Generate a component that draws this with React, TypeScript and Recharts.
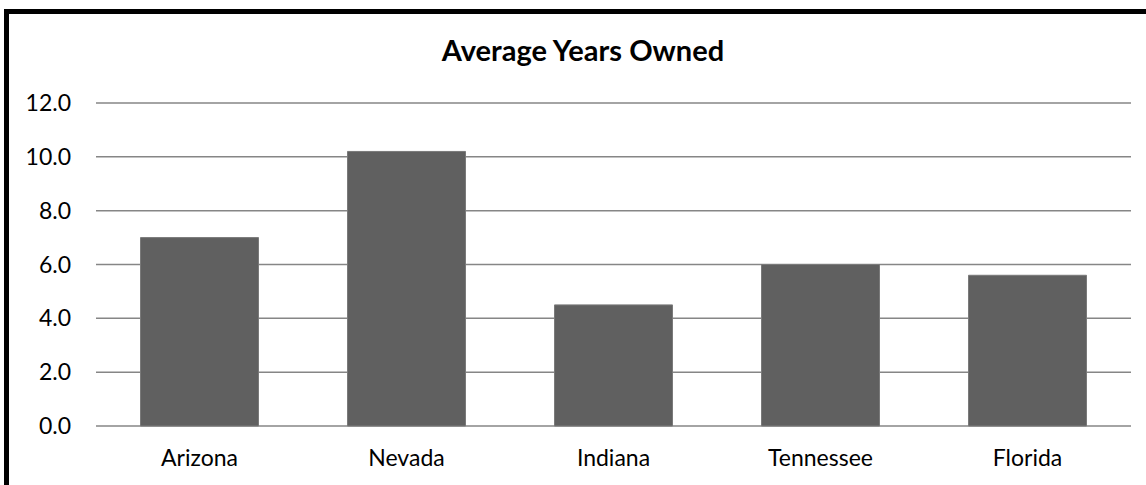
import { Bar, BarChart, CartesianGrid, XAxis, YAxis } from "recharts";

const STATES = ["Arizona", "Nevada", "Indiana", "Tennessee", "Florida"];
const YEARS_OWNED = [7.0, 10.2, 4.5, 6.0, 5.6];
const Y_TICKS = [0, 2, 4, 6, 8, 10, 12];

const data = STATES.map((state, i) => ({ state, years: YEARS_OWNED[i] }));

const FONT = "Lato, 'Open Sans', sans-serif";

export default function App() {
  return (
    <div
      style={{
        position: "absolute",
        left: 0,
        top: 0,
        width: 1146,
        height: 485,
        background: "#fff",
        overflow: "hidden",
        fontFamily: FONT,
      }}
    >
      {/* frame: only top and left edges are visible in the crop */}
      <div
        style={{
          position: "absolute",
          left: 4,
          top: 9,
          width: 1200,
          height: 520,
          borderLeft: "5px solid #000",
          borderTop: "5px solid #000",
        }}
      />
      <div
        style={{
          position: "absolute",
          left: 383,
          width: 400,
          top: 33,
          textAlign: "center",
          fontWeight: 700,
          fontSize: 29,
          lineHeight: "34px",
          color: "#000",
        }}
      >
        Average Years Owned
      </div>
      <BarChart
        width={1146}
        height={485}
        data={data}
        margin={{ top: 103, right: 15, bottom: 0, left: 0 }}
        barCategoryGap="21.5%"
        style={{ position: "absolute", left: 0, top: 0 }}
      >
        <CartesianGrid vertical={false} stroke="#868686" strokeWidth={1.5} />
        <XAxis
          dataKey="state"
          height={59}
          axisLine={false}
          tickLine={false}
          tickSize={0}
          tickMargin={24}
          tick={{ fill: "#000", fontSize: 23, fontFamily: FONT }}
        />
        <YAxis
          width={96}
          domain={[0, 12]}
          ticks={Y_TICKS}
          axisLine={false}
          tickLine={false}
          tickSize={0}
          tickMargin={25}
          tickFormatter={(v: number) => v.toFixed(1)}
          tick={{ fill: "#000", fontSize: 23, fontFamily: FONT }}
        />
        <Bar dataKey="years" fill="#606060" stroke="#7a7a7a" strokeWidth={1} isAnimationActive={false} />
      </BarChart>
    </div>
  );
}
